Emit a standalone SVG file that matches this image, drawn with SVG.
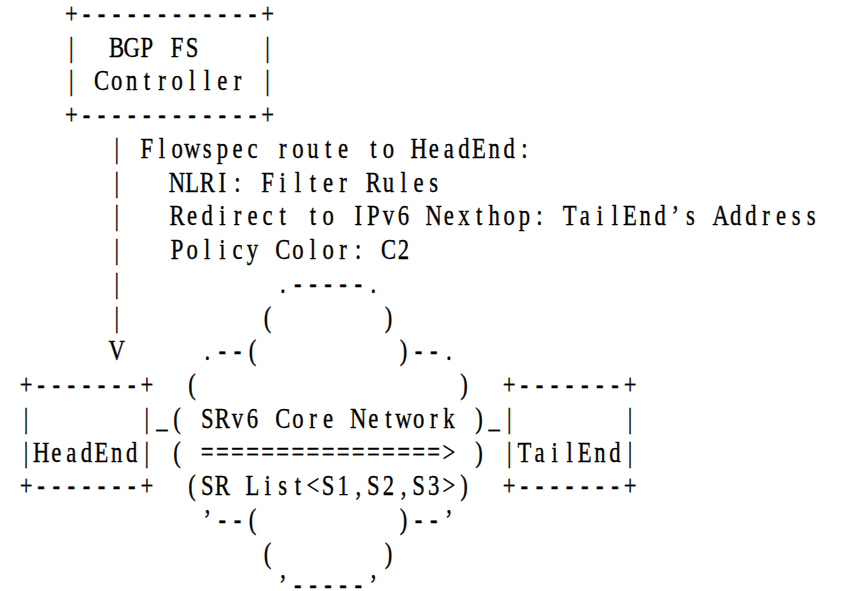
<svg xmlns="http://www.w3.org/2000/svg" width="858" height="591" viewBox="0 0 858 591">
  <style>
    text { font-family: "Liberation Serif", "Times New Roman", serif; font-size: 30px; fill: #000; stroke: #000; stroke-width: 0.35px; text-anchor: middle; }
  </style>
  <rect width="858" height="591" fill="#fff"/>

  <!-- Fixed-pitch character grid, drawn with a narrowed serif face:
       inside the layer, character column c is centred at x = 20*c
       (15.1px per column on the page); row r has its baseline at 23 + 33.75*r. -->
  <g transform="matrix(0.755 0 0 1 26.05 0)">

    <g id="controller">
      <text x="60 80 100 120 140 160 180 200 220 240 260 280 300 320" y="23">+------------+</text>
      <text x="60" y="56.75">|</text>
      <text x="120 140 160 180 200 220" y="56.75">BGP FS</text>
      <text x="320" y="56.75">|</text>
      <text x="60" y="90.5">|</text>
      <text x="100 120 140 160 180 200 220 240 260 280" y="90.5">Controller</text>
      <text x="320" y="90.5">|</text>
      <text x="60 80 100 120 140 160 180 200 220 240 260 280 300 320" y="124.25">+------------+</text>
    </g>

    <g id="connectors">
      <text x="120" y="158">|</text>
      <text x="120" y="191.75">|</text>
      <text x="120" y="225.5">|</text>
      <text x="120" y="259.25">|</text>
      <text x="120" y="293">|</text>
      <text x="120" y="326.75">|</text>
      <text x="120" y="360.5">V</text>
      <text x="180" y="428">_</text>
      <text x="620" y="428">_</text>
    </g>

    <g id="flowspec-label">
      <text x="160 180 200 220 240 260 280 300 320 340 360 380 400 420 440 460 480 500 520 540 560 580 600 620 640 660" y="158">Flowspec route to HeadEnd:</text>
      <text x="200 220 240 260 280 300 320 340 360 380 400 420 440 460 480 500 520 540" y="191.75">NLRI: Filter Rules</text>
      <text x="200 220 240 260 280 300 320 340 360 380 400 420 440 460 480 500 520 540 560 580 600 620 640 660 680 700 720 740 760 780 800 820 840 860 880 900 920 940 960 980 1000 1020 1040" y="225.5">Redirect to IPv6 Nexthop: TailEnd’s Address</text>
      <text x="200 220 240 260 280 300 320 340 360 380 400 420 440 460 480 500" y="259.25">Policy Color: C2</text>
    </g>

    <g id="headend">
      <text x="0 20 40 60 80 100 120 140 160" y="394.25">+-------+</text>
      <text x="0" y="428">|</text>
      <text x="160" y="428">|</text>
      <text x="0 20 40 60 80 100 120 140 160" y="461.75">|HeadEnd|</text>
      <text x="0 20 40 60 80 100 120 140 160" y="495.5">+-------+</text>
    </g>

    <g id="tailend">
      <text x="640 660 680 700 720 740 760 780 800" y="394.25">+-------+</text>
      <text x="640" y="428">|</text>
      <text x="800" y="428">|</text>
      <text x="640 660 680 700 720 740 760 780 800" y="461.75">|TailEnd|</text>
      <text x="640 660 680 700 720 740 760 780 800" y="495.5">+-------+</text>
    </g>

    <g id="srv6-core">
      <text x="340 360 380 400 420 440 460" y="293">.-----.</text>
      <text x="320" y="326.75">(</text>
      <text x="480" y="326.75">)</text>
      <text x="240 260 280 300" y="360.5">.--(</text>
      <text x="500 520 540 560" y="360.5">)--.</text>
      <text x="220" y="394.25">(</text>
      <text x="580" y="394.25">)</text>
      <text x="200 220 240 260 280 300 320 340 360 380 400 420 440 460 480 500 520 540 560 580 600" y="428">( SRv6 Core Network )</text>
      <text x="200 220 240 260 280 300 320 340 360 380 400 420 440 460 480 500 520 540 560 580 600" y="461.75">( ================&gt; )</text>
      <text x="220 240 260 280 300 320 340 360 380 400 420 440 460 480 500 520 540 560 580" y="495.5">(SR List&lt;S1,S2,S3&gt;)</text>
      <text x="240 260 280 300" y="529.25">’--(</text>
      <text x="500 520 540 560" y="529.25">)--’</text>
      <text x="320" y="563">(</text>
      <text x="480" y="563">)</text>
      <text x="340 360 380 400 420 440 460" y="594">’-----’</text>
    </g>

  </g>
</svg>
